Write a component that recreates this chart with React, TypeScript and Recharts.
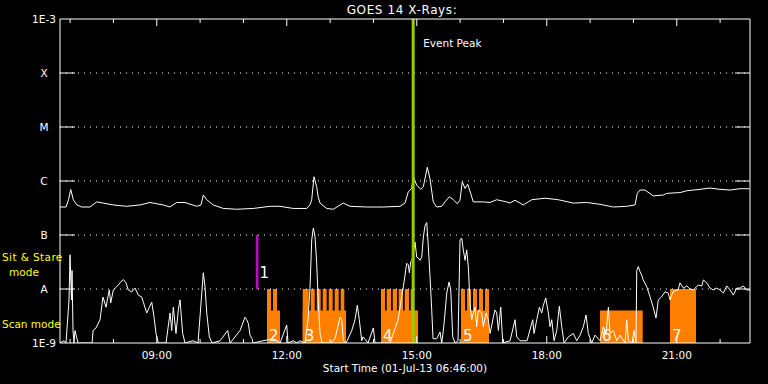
import React from 'react';
import { ComposedChart, Line, XAxis, YAxis, ReferenceArea, ReferenceLine } from 'recharts';

// GOES 14 long channel (1-8 A): [hour of day, flux W/m^2]
const longChannel: [number, number][] = [
  [6.767, 3.3e-7], [6.905, 3.3e-7], [6.963, 4.5e-7], [7.014, 7.0e-7], [7.074, 4.5e-7], [7.159, 3.6e-7],
  [7.267, 3.3e-7], [7.459, 3.3e-7], [7.614, 4.1e-7], [7.766, 3.9e-7], [7.997, 3.6e-7], [8.306, 3.4e-7],
  [8.613, 3.6e-7], [8.844, 4.0e-7], [9.15, 3.6e-7], [9.305, 3.3e-7], [9.46, 4.0e-7], [9.651, 4.0e-7],
  [9.921, 3.4e-7], [10.02, 3.6e-7], [10.074, 5.5e-7], [10.152, 4.5e-7], [10.304, 3.6e-7], [10.535, 3.1e-7],
  [10.844, 3.0e-7], [11.227, 3.1e-7], [11.613, 3.4e-7], [11.844, 3.4e-7], [12.15, 3.1e-7], [12.46, 3.1e-7],
  [12.536, 3.6e-7], [12.575, 4.5e-7], [12.628, 1.2e-6], [12.69, 7.8e-7], [12.72, 5.3e-7], [12.767, 3.9e-7],
  [12.921, 3.1e-7], [13.073, 3.0e-7], [13.182, 3.4e-7], [13.304, 3.9e-7], [13.459, 3.4e-7], [13.844, 3.3e-7],
  [14.227, 3.3e-7], [14.613, 3.4e-7], [14.728, 3.9e-7], [14.804, 6.3e-7], [14.883, 7.3e-7], [14.92, 1.2e-6],
  [14.998, 8.4e-7], [15.091, 7.0e-7], [15.151, 7.8e-7], [15.243, 1.8e-6], [15.305, 1.1e-6], [15.381, 4.1e-7],
  [15.46, 3.3e-7], [15.575, 3.4e-7], [15.651, 4.1e-7], [15.751, 5.1e-7], [15.843, 4.5e-7], [15.935, 3.8e-7],
  [15.997, 4.4e-7], [16.05, 9.7e-7], [16.113, 7.3e-7], [16.175, 8.7e-7], [16.244, 5.9e-7], [16.304, 4.1e-7],
  [16.535, 4.1e-7], [16.69, 4.0e-7], [16.844, 4.5e-7], [17.075, 4.1e-7], [17.15, 3.9e-7], [17.267, 4.4e-7],
  [17.459, 3.6e-7], [17.652, 4.5e-7], [17.959, 4.8e-7], [18.266, 4.5e-7], [18.613, 3.9e-7], [18.921, 4.0e-7],
  [19.228, 3.7e-7], [19.535, 3.3e-7], [19.844, 3.4e-7], [20.036, 3.6e-7], [20.089, 5.9e-7], [20.151, 6.8e-7],
  [20.267, 6.8e-7], [20.458, 5.3e-7], [20.689, 5.5e-7], [20.767, 5.9e-7], [21.075, 6.1e-7], [21.229, 6.6e-7],
  [21.536, 7.0e-7], [21.767, 7.4e-7], [21.997, 7.0e-7], [22.228, 6.8e-7], [22.459, 7.2e-7], [22.674, 7.2e-7],
];

// GOES 14 short channel (0.5-4 A): [hour of day, flux W/m^2]
const shortChannel: [number, number][] = [
  [6.767, 1.0e-9], [6.859, 1.1e-9], [6.905, 1.0e-9], [6.975, 6.3e-9], [6.998, 4.3e-8], [7.032, 6.3e-9],
  [7.044, 2.2e-8], [7.067, 1.7e-9], [7.09, 1.0e-9], [7.113, 1.7e-9], [7.182, 1.0e-9], [7.506, 1.0e-9],
  [7.529, 1.7e-9], [7.598, 1.9e-9], [7.69, 2.7e-9], [7.759, 7.1e-9], [7.829, 4.6e-9], [7.859, 6.3e-9],
  [7.905, 9.6e-9], [7.937, 5.5e-9], [7.997, 9.6e-9], [8.075, 1.1e-8], [8.152, 1.3e-8], [8.228, 1.5e-8],
  [8.29, 1.3e-8], [8.343, 9.6e-9], [8.422, 8.8e-9], [8.498, 1.04e-8], [8.574, 7.7e-9], [8.653, 7.1e-9],
  [8.69, 5.7e-9], [8.768, 3.6e-9], [8.828, 4.6e-9], [8.884, 5.7e-9], [8.937, 3.0e-9], [8.983, 1.5e-9],
  [9.036, 1.0e-9], [9.213, 1.0e-9], [9.306, 3.6e-9], [9.345, 1.7e-9], [9.382, 4.6e-9], [9.444, 1.5e-9],
  [9.497, 4.1e-9], [9.536, 6.3e-9], [9.598, 1.5e-9], [9.652, 1.0e-9], [9.836, 1.1e-9], [9.952, 1.0e-9],
  [10.074, 2.0e-8], [10.113, 1.1e-8], [10.153, 3.6e-9], [10.213, 1.3e-9], [10.275, 1.0e-9], [10.46, 1.1e-9],
  [10.637, 1.7e-9], [10.691, 1.0e-9], [10.921, 1.7e-9], [11.037, 3.0e-9], [11.076, 2.7e-9], [11.113, 2.3e-9],
  [11.152, 1.4e-9], [11.198, 1.2e-9], [11.221, 1.0e-9], [11.452, 1.1e-9], [11.683, 1.2e-9], [11.844, 1.0e-9],
  [11.999, 2.15e-9], [12.029, 1.0e-9], [12.151, 1.1e-9], [12.237, 1.0e-9], [12.306, 1.1e-9], [12.421, 1.0e-9],
  [12.491, 2.7e-9], [12.537, 1.1e-8], [12.576, 8.1e-8], [12.613, 1.35e-7], [12.652, 9.2e-8], [12.691, 3.0e-8],
  [12.728, 5.5e-9], [12.768, 1.5e-9], [12.814, 1.0e-9], [12.999, 1.0e-9], [13.114, 1.2e-9], [13.23, 3.0e-9],
  [13.269, 2.7e-9], [13.306, 1.1e-9], [13.368, 1.0e-9], [13.499, 1.7e-9], [13.575, 2.7e-9], [13.628, 5.0e-9],
  [13.674, 2.7e-9], [13.73, 1.1e-9], [13.76, 1.3e-9], [13.875, 1.0e-9], [13.998, 1.9e-9], [14.037, 1.0e-9],
  [14.383, 1.0e-9], [14.568, 2.7e-9], [14.69, 1.1e-8], [14.768, 3.0e-8], [14.805, 2.8e-8], [14.829, 2.0e-8],
  [14.861, 3.2e-8], [14.891, 3.4e-8], [14.921, 4.8e-8], [14.96, 7.4e-8], [14.999, 3.9e-8], [15.036, 3.75e-8],
  [15.076, 3.4e-8], [15.115, 3.9e-8], [15.152, 9.2e-8], [15.191, 1.5e-7], [15.23, 1.7e-7], [15.267, 6.0e-8],
  [15.306, 1.7e-8], [15.345, 4.1e-9], [15.375, 1.2e-9], [15.461, 1.2e-9], [15.537, 1.6e-9], [15.576, 1.0e-9],
  [15.613, 1.7e-9], [15.652, 3.6e-9], [15.692, 8.4e-9], [15.745, 1.35e-8], [15.784, 9.6e-9], [15.83, 1.3e-9],
  [15.883, 1.0e-9], [15.952, 1.1e-9], [15.998, 8.1e-8], [16.037, 8.8e-8], [16.074, 5.3e-8], [16.114, 3.4e-8],
  [16.153, 5.3e-8], [16.19, 2.55e-8], [16.229, 5.5e-9], [16.268, 2.7e-9], [16.305, 3.6e-9], [16.344, 4.6e-9],
  [16.383, 2.0e-9], [16.421, 4.1e-9], [16.499, 3.6e-9], [16.536, 2.0e-9], [16.599, 3.6e-9], [16.652, 2.7e-9],
  [16.691, 1.5e-9], [16.767, 3.0e-9], [16.806, 4.1e-9], [16.845, 3.6e-9], [16.883, 1.7e-9], [16.938, 4.6e-9],
  [16.984, 1.0e-9], [17.153, 1.1e-9], [17.268, 2.7e-9], [17.307, 1.3e-9], [17.383, 1.1e-9], [17.545, 1.1e-9],
  [17.676, 2.7e-9], [17.706, 1.5e-9], [17.769, 2.7e-9], [17.829, 4.6e-9], [17.884, 3.6e-9], [17.921, 5.0e-9],
  [17.977, 6.8e-9], [18.037, 3.6e-9], [18.076, 2.0e-9], [18.115, 2.7e-9], [18.168, 1.1e-9], [18.23, 1.7e-9],
  [18.29, 4.8e-9], [18.346, 2.0e-9], [18.399, 1.0e-9], [18.498, 1.3e-9], [18.613, 1.5e-9], [18.692, 1.1e-9],
  [18.768, 1.4e-9], [18.844, 2.0e-9], [18.906, 3.3e-9], [18.96, 1.5e-9], [19.038, 1.0e-9], [19.114, 1.4e-9],
  [19.23, 1.1e-9], [19.306, 2.0e-9], [19.368, 1.5e-9], [19.422, 4.6e-9], [19.461, 1.5e-9], [19.537, 1.7e-9],
  [19.616, 1.1e-9], [19.692, 1.4e-9], [19.807, 1.0e-9], [19.846, 2.7e-9], [19.883, 1.1e-9], [19.968, 1.0e-9],
  [20.014, 1.7e-9], [20.06, 1.0e-9], [20.076, 2.2e-8], [20.113, 2.6e-8], [20.152, 2.1e-8], [20.191, 1.8e-8],
  [20.221, 1.5e-8], [20.307, 1.1e-8], [20.383, 7.2e-9], [20.452, 4.7e-9], [20.521, 2.9e-9], [20.574, 6.3e-9],
  [20.653, 7.2e-9], [20.729, 8.9e-9], [20.805, 8.4e-9], [20.844, 6.3e-9], [20.914, 8.9e-9], [21.029, 9.6e-9],
  [21.075, 1.3e-8], [21.152, 1.04e-8], [21.23, 1.14e-8], [21.306, 1.0e-8], [21.383, 9.6e-9], [21.422, 1.04e-8],
  [21.498, 1.18e-8], [21.577, 1.14e-8], [21.614, 1.47e-8], [21.692, 1.3e-8], [21.768, 1.04e-8], [21.844, 9.6e-9],
  [21.922, 1.04e-8], [21.998, 9.6e-9], [22.075, 8.4e-9], [22.153, 1.14e-8], [22.229, 9.6e-9], [22.306, 7.7e-9],
  [22.384, 1.04e-8], [22.46, 1.04e-8], [22.536, 1.14e-8], [22.614, 9.6e-9], [22.69, 9.6e-9],
];

// observing-mode blocks (hours) and their level
const blockLabels = ['2', '3', '4', '5', '6', '7'];
const blockStarts = [11.544, 12.368, 14.175, 16.021, 19.229, 20.844];
const blockEnds = [11.844, 13.368, 15.03, 16.667, 20.214, 21.444];
const blockLevels = [4e-9, 4e-9, 4e-9, 4e-9, 4e-9, 1e-8];

// sit & stare teeth within scan blocks
const toothStarts = [
  11.544, 11.683,
  12.368, 12.552, 12.691, 12.829, 12.968, 13.106, 13.245,
  14.175, 14.306, 14.445, 14.583, 14.722, 14.86,
  16.021, 16.16, 16.298, 16.437, 16.575,
];
const toothEnds = [
  11.636, 11.775,
  12.506, 12.645, 12.783, 12.921, 13.06, 13.198, 13.328,
  14.267, 14.406, 14.545, 14.683, 14.821, 14.924,
  16.113, 16.252, 16.39, 16.529, 16.667,
];
const toothLevel = 1e-8;

// block 1 (magenta marker)
const block1 = { label: '1', start: 11.285, end: 11.345, low: 1e-8, high: 1e-7 };
const eventPeakHour = 14.917;

const startHour = 6.7667;
const endHour = 22.69;
const yTicks = [1e-9, 1e-8, 1e-7, 1e-6, 1e-5, 1e-4, 1e-3];
const yTickLabels = ['1E-9', 'A', 'B', 'C', 'M', 'X', '1E-3'];
const gridLevels = [1e-8, 1e-7, 1e-6, 1e-5, 1e-4];
const hourTicks = [7, 8, 9, 10, 11, 12, 13, 14, 15, 16, 17, 18, 19, 20, 21, 22];

const FONT = "'DejaVu Sans', sans-serif";
const WHITE = '#ffffff';
const ORANGE = '#ff8000';
const GREEN = '#99cc00';
const MAGENTA = '#cc00cc';
const YELLOW = '#ffff00';

const longData = longChannel.map(([h, v]) => ({ h, v }));
const shortData = shortChannel.map(([h, v]) => ({ h, v }));

const fmtHour = (h: number) => `${String(h).padStart(2, '0')}:00`;

const BottomTick = (props: any) => {
  const { x, y, payload } = props;
  const major = payload.value % 3 === 0;
  return (
    <g>
      <line x1={x} x2={x} y1={y} y2={y - (major ? 7 : 4)} stroke={WHITE} strokeWidth={1} />
      {major && (
        <text x={x} y={y + 16} textAnchor="middle" fill={WHITE} fontSize={10.5} fontFamily={FONT}>
          {fmtHour(payload.value)}
        </text>
      )}
    </g>
  );
};

const TopTick = (props: any) => {
  const { x, y, payload } = props;
  const major = payload.value % 3 === 0;
  return <line x1={x} x2={x} y1={y} y2={y + (major ? 7 : 4)} stroke={WHITE} strokeWidth={1} />;
};

const LeftTick = (props: any) => {
  const { x, y, payload, index } = props;
  const border = payload.value <= 1e-9 * 1.01 || payload.value >= 1e-3 * 0.99;
  return (
    <g>
      {!border && <line x1={x} x2={x + 15} y1={y} y2={y} stroke={WHITE} strokeWidth={1} />}
      <text x={x - 16} y={y + 4} textAnchor="middle" fill={WHITE} stroke="none" fontSize={10.5} fontFamily={FONT}>
        {yTickLabels[index]}
      </text>
    </g>
  );
};

const RightTick = (props: any) => {
  const { x, y, payload } = props;
  const border = payload.value <= 1e-9 * 1.01 || payload.value >= 1e-3 * 0.99;
  if (border) return <g />;
  return <line x1={x - 15} x2={x} y1={y} y2={y} stroke={WHITE} strokeWidth={1} />;
};

export default function App() {
  return (
    <div style={{ position: 'absolute', left: 0, top: 0, width: 768, height: 384, background: '#000' }}>
      <ComposedChart width={768} height={384} margin={{ top: 0, right: 0, bottom: 0, left: 0 }}>
        <XAxis
          xAxisId="b"
          dataKey="h"
          type="number"
          orientation="bottom"
          domain={[startHour, endHour]}
          allowDataOverflow
          ticks={hourTicks}
          interval={0}
          height={41}
          tickSize={0}
          tickMargin={0}
          tickLine={false}
          axisLine={{ stroke: WHITE, strokeWidth: 1 }}
          tick={<BottomTick />}
        />
        <XAxis
          xAxisId="t"
          dataKey="h"
          type="number"
          orientation="top"
          domain={[startHour, endHour]}
          allowDataOverflow
          ticks={hourTicks}
          interval={0}
          height={19}
          tickSize={0}
          tickMargin={0}
          tickLine={false}
          axisLine={{ stroke: WHITE, strokeWidth: 1 }}
          tick={<TopTick />}
        />
        <YAxis
          yAxisId="l"
          dataKey="v"
          type="number"
          scale="log"
          domain={[1e-9, 1e-3]}
          allowDataOverflow
          ticks={yTicks}
          interval={0}
          width={60}
          tickSize={0}
          tickMargin={0}
          tickLine={false}
          axisLine={{ stroke: WHITE, strokeWidth: 1 }}
          tick={<LeftTick />}
        />
        <YAxis
          yAxisId="r"
          dataKey="v"
          type="number"
          scale="log"
          orientation="right"
          domain={[1e-9, 1e-3]}
          allowDataOverflow
          ticks={yTicks}
          interval={0}
          width={18}
          tickSize={0}
          tickMargin={0}
          tickLine={false}
          axisLine={{ stroke: WHITE, strokeWidth: 1 }}
          tick={<RightTick />}
        />

        {gridLevels.map((lv) => (
          <ReferenceLine key={`g${lv}`} xAxisId="b" yAxisId="l" y={lv} stroke={WHITE} strokeWidth={1} strokeDasharray="1 5" />
        ))}

        {blockLabels.map((lab, i) => (
          <ReferenceArea
            key={`blk${lab}`}
            xAxisId="b"
            yAxisId="l"
            x1={blockStarts[i]}
            x2={blockEnds[i]}
            y1={1e-9}
            y2={blockLevels[i]}
            fill={ORANGE}
            fillOpacity={1}
            stroke="none"
            ifOverflow="hidden"
            label={{ value: lab, position: 'insideBottomLeft', offset: 2, fill: WHITE, fontSize: 15, fontFamily: FONT }}
          />
        ))}
        {toothStarts.map((s, i) => (
          <ReferenceArea
            key={`tooth${i}`}
            xAxisId="b"
            yAxisId="l"
            x1={s}
            x2={toothEnds[i]}
            y1={1e-9}
            y2={toothLevel}
            fill={ORANGE}
            fillOpacity={1}
            stroke="none"
            ifOverflow="hidden"
          />
        ))}
        <ReferenceArea
          xAxisId="b"
          yAxisId="l"
          x1={block1.start}
          x2={block1.end}
          y1={block1.low}
          y2={block1.high}
          fill={MAGENTA}
          fillOpacity={1}
          stroke="none"
          label={(p: any) => (
            <text
              x={p.viewBox.x + p.viewBox.width + 1}
              y={p.viewBox.y + p.viewBox.height - 11}
              fill={WHITE}
              fontSize={15}
              fontFamily={FONT}
            >
              {block1.label}
            </text>
          )}
        />

        <Line
          xAxisId="b"
          yAxisId="l"
          data={shortData}
          dataKey="v"
          type="linear"
          stroke={WHITE}
          strokeWidth={1}
          dot={false}
          isAnimationActive={false}
        />
        <Line
          xAxisId="b"
          yAxisId="l"
          data={longData}
          dataKey="v"
          type="linear"
          stroke={WHITE}
          strokeWidth={1}
          dot={false}
          isAnimationActive={false}
        />

        <ReferenceLine
          xAxisId="b"
          yAxisId="l"
          x={eventPeakHour}
          stroke={GREEN}
          strokeWidth={3}
          label={(p: any) => (
            <text x={p.viewBox.x + 10} y={p.viewBox.y + 28} fill={WHITE} fontSize={10.5} fontFamily={FONT}>
              Event Peak
            </text>
          )}
        />
      </ComposedChart>
      <svg width={768} height={384} style={{ position: 'absolute', left: 0, top: 0, pointerEvents: 'none' }}>
        <text x={402} y={14} textAnchor="middle" fill={WHITE} fontSize={12} letterSpacing={0.6} fontFamily={FONT}>
          GOES 14 X-Rays:
        </text>
        <text x={405} y={372} textAnchor="middle" fill={WHITE} fontSize={10.5} fontFamily={FONT}>
          Start Time (01-Jul-13 06:46:00)
        </text>
        <text x={2} y={261} fill={YELLOW} fontSize={10.5} letterSpacing={0.4} fontFamily={FONT}>
          Sit &amp; Stare
        </text>
        <text x={24} y={276} textAnchor="middle" fill={YELLOW} fontSize={10.5} fontFamily={FONT}>
          mode
        </text>
        <text x={2} y={328} fill={YELLOW} fontSize={10.5} fontFamily={FONT}>
          Scan mode
        </text>
      </svg>
    </div>
  );
}
